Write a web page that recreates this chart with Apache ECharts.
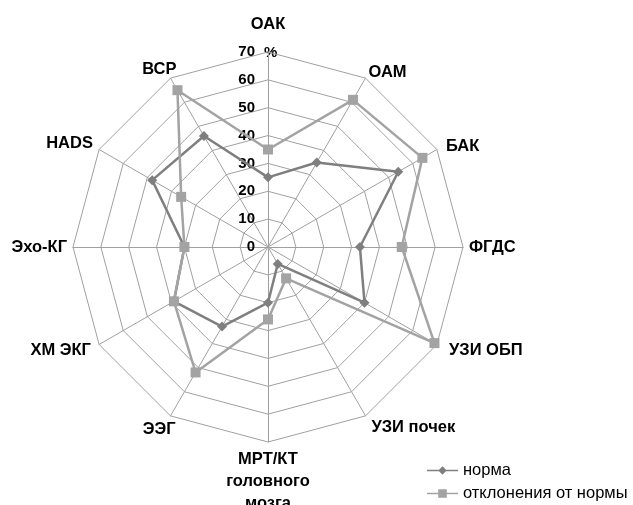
<!DOCTYPE html>
<html>
<head>
<meta charset="utf-8">
<script src="https://cdn.jsdelivr.net/npm/echarts@6/dist/echarts.min.js"></script>
<style>html,body{margin:0;padding:0;background:#fff;}#c{width:633px;height:505px;}</style>
</head>
<body>
<div id="c"></div>
<script>
// categories listed clockwise from the top
const indicators = ['ОАК','ОАМ','БАК','ФГДС','УЗИ ОБП','УЗИ почек','МРТ/КТ\nголовного\nмозга','ЭЭГ','ХМ ЭКГ','Эхо-КГ','HADS','ВСР'];
const normaValues = [25, 35, 54, 33, 40, 7, 20, 33, 39, 30, 48, 46];
const deviationValues = [35, 61, 64, 48, 69, 13, 26, 52, 39, 30, 36, 65];
const seriesNames = ['норма', 'отклонения от нормы'];
const tickMax = 70;
const tickStep = 10;

const CX = 268, CY = 247, R = 195;
const FONT = '"Liberation Sans", Arial, sans-serif';
const NAME_FS = 16.5;

// ECharts radar runs counter-clockwise: keep the first item, reverse the rest
const cw = (arr) => [arr[0]].concat(arr.slice(1).reverse());

// label nudges (padding: top, right, bottom, left)
const namePad = {
  'ОАК': [0, 0, 22, 0],
  'БАК': [0, 0, 0, 4],
  'УЗИ ОБП': [5, 0, 0, 7],
  'УЗИ почек': [12, 0, 0, 3],
  'ЭЭГ': [17, -8, 0, 0],
  'ХМ ЭКГ': [6, 3, 0, 0],
  'HADS': [0, 1, 6, 0],
  'ВСР': [0, -9, 6, 0]
};
const rich = {};
const keyOf = {};
Object.keys(namePad).forEach((n, i) => {
  keyOf[n] = 'n' + i;
  rich['n' + i] = { fontSize: NAME_FS, fontWeight: 'bold', color: '#000', fontFamily: FONT, padding: namePad[n] };
});

const chart = echarts.init(document.getElementById('c'));
chart.setOption({
  animation: false,
  textStyle: { fontFamily: FONT },
  legend: {
    orient: 'vertical',
    left: 422, top: 457, width: 220, height: 60,
    itemWidth: 31, itemHeight: 10, itemGap: 6,
    textStyle: { fontSize: 16.5, color: '#000', fontFamily: FONT },
    data: [
      { name: seriesNames[0], icon: 'path://M0,4.3H31V5.7H0Z M15.5,0.8L19.7,5L15.5,9.2L11.3,5Z' },
      { name: seriesNames[1], icon: 'path://M0,4.3H31V5.7H0Z M11.2,0.7H19.8V9.3H11.2Z' }
    ]
  },
  grid: { left: CX, top: CY - R, height: R, width: 1, containLabel: false },
  xAxis: { type: 'value', show: false },
  yAxis: {
    type: 'value', min: 0, max: tickMax, interval: tickStep,
    axisLine: { show: false }, axisTick: { show: false }, splitLine: { show: false },
    axisLabel: { fontSize: 15, fontWeight: 'bold', color: '#000', margin: 13, fontFamily: FONT }
  },
  graphic: [{ type: 'text', left: CX - 4, top: CY - R - 7, style: { text: '%', font: 'bold 15px ' + FONT, fill: '#000' } }],
  radar: {
    center: [CX, CY], radius: R, startAngle: 90,
    shape: 'polygon', splitNumber: 7,
    indicator: cw(indicators).map(n => ({ name: n, min: 0, max: tickMax })),
    axisName: {
      color: '#000', fontSize: NAME_FS, fontWeight: 'bold', fontFamily: FONT, lineHeight: 22,
      formatter: (v) => keyOf[v] ? '{' + keyOf[v] + '|' + v + '}' : v,
      rich: rich
    },
    nameGap: 6,
    axisLine: { lineStyle: { color: '#a0a0a0', width: 1 } },
    splitLine: { lineStyle: { color: '#a0a0a0', width: 1 } },
    splitArea: { show: false }
  },
  series: [{
    type: 'radar',
    data: [
      { name: seriesNames[0], value: cw(normaValues), symbol: 'diamond', symbolSize: 10,
        lineStyle: { color: '#7f7f7f', width: 2.5 }, itemStyle: { color: '#7f7f7f' } },
      { name: seriesNames[1], value: cw(deviationValues), symbol: 'rect', symbolSize: 10,
        lineStyle: { color: '#a3a3a3', width: 2.5 }, itemStyle: { color: '#a3a3a3' } }
    ]
  }]
});
</script>
</body>
</html>
